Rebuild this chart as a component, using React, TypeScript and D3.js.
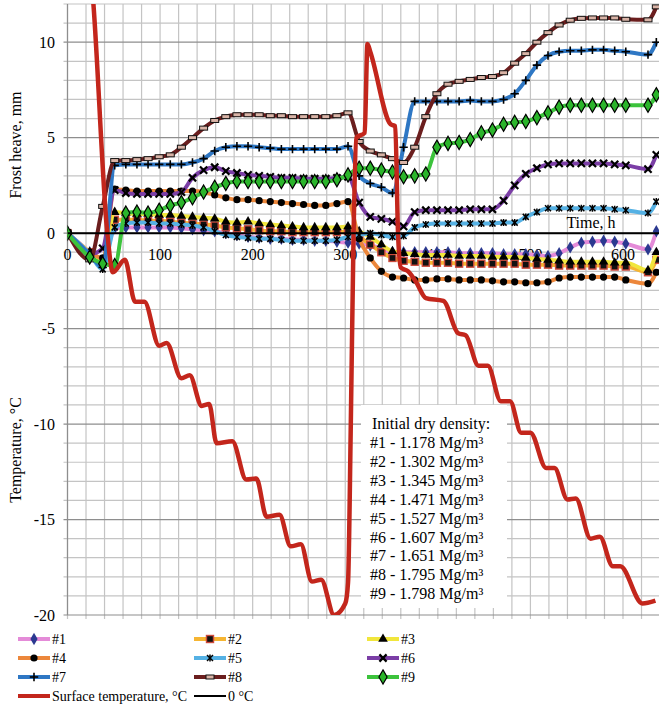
import React from 'react';
import * as d3 from 'd3';

// sampling times of the frost heave readings, h
const hours = [0, 24, 38, 51, 63, 75, 87, 99, 111, 123,
  135, 147, 159, 171, 183, 195, 207, 219, 231, 243,
  255, 267, 279, 291, 303, 315, 327, 339, 351, 363,
  375, 387, 399, 411, 423, 435, 447, 459, 471, 483,
  495, 507, 519, 531, 543, 555, 567, 579, 591, 603,
  627, 636];

// frost heave, mm
const heave1 = [0, -1.0, -1.6, 0.25, 0.3, 0.3, 0.3, 0.3, 0.3, 0.25,
  0.2, 0.15, 0.1, 0.0, -0.1, -0.2, -0.25, -0.3, -0.3, -0.35,
  -0.35, -0.4, -0.4, -0.45, -0.5, -0.55, -0.65, -0.8, -1.0, -1.0,
  -1.0, -1.0, -1.0, -1.0, -1.05, -1.05, -1.05, -1.05, -1.1, -1.1,
  -1.1, -1.15, -1.2, -1.05, -0.75, -0.5, -0.45, -0.4, -0.45, -0.55,
  -0.85, 0.1];
const heave2 = [0, -1.0, -1.5, 0.7, 0.7, 0.7, 0.65, 0.65, 0.6, 0.55,
  0.5, 0.45, 0.4, 0.3, 0.25, 0.2, 0.15, 0.1, 0.1, 0.05,
  0.05, 0.05, 0.05, 0.05, 0.1, -0.2, -0.6, -1.0, -1.3, -1.45,
  -1.5, -1.55, -1.55, -1.55, -1.6, -1.6, -1.6, -1.6, -1.6, -1.6,
  -1.65, -1.65, -1.65, -1.7, -1.7, -1.7, -1.7, -1.7, -1.75, -1.75,
  -2.05, -1.4];
const heave3 = [0, -1.0, -1.5, 1.1, 1.05, 1.0, 1.0, 0.95, 0.95, 0.9,
  0.85, 0.8, 0.75, 0.6, 0.55, 0.6, 0.5, 0.45, 0.4, 0.35,
  0.3, 0.3, 0.3, 0.3, 0.35, 0.1, -0.2, -0.6, -0.95, -1.05,
  -1.1, -1.15, -1.15, -1.15, -1.2, -1.2, -1.2, -1.25, -1.25, -1.25,
  -1.3, -1.35, -1.4, -1.45, -1.5, -1.5, -1.5, -1.5, -1.55, -1.55,
  -1.95, -1.0];
const heave4 = [0, -1.0, -1.3, 2.3, 2.25, 2.2, 2.2, 2.2, 2.2, 2.2,
  2.2, 2.15, 2.0, 1.85, 1.75, 1.75, 1.7, 1.65, 1.6, 1.55,
  1.5, 1.45, 1.45, 1.55, 1.65, -0.3, -1.3, -2.0, -2.3, -2.35,
  -2.45, -2.45, -2.4, -2.4, -2.45, -2.45, -2.45, -2.5, -2.55, -2.55,
  -2.6, -2.6, -2.55, -2.35, -2.3, -2.3, -2.3, -2.3, -2.3, -2.45,
  -2.65, -2.05];
const heave5 = [0, -1.1, -1.9, 0.3, 0.5, 0.55, 0.55, 0.5, 0.5, 0.45,
  0.4, 0.3, 0.1, -0.1, -0.2, -0.25, -0.3, -0.3, -0.35, -0.4,
  -0.4, -0.4, -0.4, -0.35, -0.2, -0.1, 0.0, -0.1, -0.2, -0.15,
  0.3, 0.45, 0.5, 0.5, 0.5, 0.5, 0.5, 0.5, 0.55, 0.55,
  0.85, 1.1, 1.3, 1.3, 1.3, 1.3, 1.3, 1.3, 1.25, 1.2,
  1.05, 1.65];
const heave6 = [0, -1.1, -0.8, 2.25, 2.1, 2.05, 2.05, 2.05, 2.05, 2.15,
  2.9, 3.3, 3.45, 3.25, 3.15, 3.05, 3.0, 2.95, 2.9, 2.9,
  2.85, 2.85, 2.85, 2.9, 2.95, 1.6, 0.85, 0.75, 0.6, 0.35,
  1.1, 1.2, 1.2, 1.2, 1.2, 1.25, 1.25, 1.25, 1.7, 2.5,
  3.1, 3.4, 3.6, 3.65, 3.65, 3.65, 3.65, 3.65, 3.6, 3.55,
  3.35, 4.1];
const heave7 = [0, -1.1, -1.8, 3.55, 3.6, 3.6, 3.6, 3.6, 3.6, 3.6,
  3.7, 3.9, 4.3, 4.5, 4.55, 4.55, 4.5, 4.45, 4.4, 4.4,
  4.4, 4.4, 4.4, 4.4, 4.55, 3.0, 2.6, 2.4, 2.1, 4.5,
  6.9, 6.9, 6.9, 6.9, 6.9, 6.95, 6.9, 6.9, 7.0, 7.3,
  8.0, 8.8, 9.3, 9.5, 9.55, 9.55, 9.6, 9.6, 9.55, 9.5,
  9.35, 10.0];
const heave8 = [0, -1.4, 1.4, 3.8, 3.8, 3.85, 3.9, 4.0, 4.1, 4.5,
  5.0, 5.5, 5.9, 6.1, 6.2, 6.2, 6.2, 6.15, 6.15, 6.1,
  6.1, 6.1, 6.1, 6.15, 6.3, 4.8, 4.3, 4.1, 3.9, 3.7,
  4.5, 6.1, 7.3, 7.8, 7.95, 8.05, 8.15, 8.2, 8.4, 8.9,
  9.4, 10.0, 10.5, 10.9, 11.15, 11.25, 11.27, 11.27, 11.27, 11.2,
  11.17, 11.85];
const heave9 = [0, -1.25, -1.6, -1.7, 1.05, 1.1, 1.05, 1.2, 1.45, 1.6,
  1.85, 2.15, 2.4, 2.6, 2.7, 2.7, 2.7, 2.7, 2.7, 2.7,
  2.7, 2.7, 2.7, 2.8, 3.05, 3.4, 3.4, 3.3, 3.2, 2.95,
  3.0, 3.1, 4.5, 4.7, 4.75, 4.9, 5.25, 5.4, 5.7, 5.8,
  5.85, 6.05, 6.3, 6.6, 6.7, 6.7, 6.7, 6.7, 6.7, 6.7,
  6.7, 7.25];

// surface temperature, °C
const tempHours = [20, 28, 43, 49, 62, 73, 83, 99, 107, 123,
  132, 145, 153, 161, 178, 193, 204, 215, 229, 241,
  252, 264, 274, 288, 300, 303, 306, 309, 312, 321,
  324, 327, 349, 354, 357, 360, 368, 377, 387, 406,
  422, 430, 444, 454, 468, 478, 490, 500, 517, 526,
  540, 549, 565, 575, 589, 597, 621, 635];
const tempValues = [16.5, 12, 0, -2.05, -1.4, -3.6, -3.6, -5.9, -5.75, -7.6,
  -7.45, -9.05, -8.95, -11.0, -10.9, -12.9, -12.85, -14.85, -14.75, -16.4,
  -16.3, -18.25, -18.15, -20.0, -19.4, -18.3, -10, 0, 5.0, 5.25,
  9.9, 9.5, 5.7, 5.6, 0, -1.8, -2.0, -2.6, -3.4, -3.55,
  -5.25, -5.35, -6.95, -6.95, -8.8, -8.8, -10.45, -10.45, -12.3, -12.3,
  -13.95, -13.9, -16.0, -15.9, -17.45, -17.45, -19.4, -19.25];

const xTicks = [0, 100, 200, 300, 400, 500, 600];
const yTicks = [-20, -15, -10, -5, 0, 5, 10];
const densityTitle = 'Initial dry density:';
const densityNotes = ['#1 - 1.178 Mg/m³', '#2 - 1.302 Mg/m³', '#3 - 1.345 Mg/m³',
  '#4 - 1.471 Mg/m³', '#5 - 1.527 Mg/m³', '#6 - 1.607 Mg/m³',
  '#7 - 1.651 Mg/m³', '#8 - 1.795 Mg/m³', '#9 - 1.798 Mg/m³'];

const FONT = '"Liberation Serif", "Times New Roman", serif';

const series = [
  { name: '#1', values: heave1, color: '#e48bd8', marker: 'diamond' },
  { name: '#2', values: heave2, color: '#f6b532', marker: 'square' },
  { name: '#3', values: heave3, color: '#f1e63c', marker: 'triangle' },
  { name: '#4', values: heave4, color: '#ec873b', marker: 'circle' },
  { name: '#5', values: heave5, color: '#55b1e4', marker: 'star' },
  { name: '#6', values: heave6, color: '#7b3ea6', marker: 'cross' },
  { name: '#7', values: heave7, color: '#2e77c4', marker: 'plus' },
  { name: '#8', values: heave8, color: '#6b1e1e', marker: 'dash' },
  { name: '#9', values: heave9, color: '#3cc33c', marker: 'greenDiamond' },
];

const x = d3.scaleLinear().domain([0, 600]).range([67.5, 623]);
const y = d3.scaleLinear().domain([-20, 12]).range([615, 4]);
const xEnd = x(640);

const Marker = ({ kind, cx, cy }: { kind: string; cx: number; cy: number }) => {
  const t = `translate(${cx},${cy})`;
  switch (kind) {
    case 'diamond':
      return <path transform={t} d={d3.symbol(d3.symbolDiamond, 44)()!} fill="#2b3990" />;
    case 'square':
      return <rect x={cx - 3.5} y={cy - 3.5} width={7} height={7} fill="#111" stroke="#cc4a3c" strokeWidth={1.4} />;
    case 'triangle':
      return <path transform={t} d={d3.symbol(d3.symbolTriangle, 40)()!} fill="#000" />;
    case 'circle':
      return <circle cx={cx} cy={cy} r={3.6} fill="#000" />;
    case 'star':
      return (
        <g transform={t} stroke="#000" strokeWidth={1.5}>
          <line x1={-3} y1={-3} x2={3} y2={3} />
          <line x1={-3} y1={3} x2={3} y2={-3} />
          <line x1={0} y1={-3.5} x2={0} y2={3.5} />
        </g>
      );
    case 'cross':
      return (
        <g transform={t} stroke="#000" strokeWidth={2.2}>
          <line x1={-3.6} y1={-3.6} x2={3.6} y2={3.6} />
          <line x1={-3.6} y1={3.6} x2={3.6} y2={-3.6} />
        </g>
      );
    case 'plus':
      return (
        <g transform={t} stroke="#000" strokeWidth={1.6}>
          <line x1={-4.2} y1={0} x2={4.2} y2={0} />
          <line x1={0} y1={-4.2} x2={0} y2={4.2} />
        </g>
      );
    case 'dash':
      return <rect x={cx - 4} y={cy - 2} width={8} height={4} fill="#d9b3a6" stroke="#111" strokeWidth={1} />;
    case 'greenDiamond':
      return <path transform={t} d={d3.symbol(d3.symbolDiamond, 58)()!} fill="#2bb52b" stroke="#000" strokeWidth={1.2} />;
    default:
      return null;
  }
};

const App = () => {
  const heaveLine = d3.line<number>()
    .x((_, i) => x(hours[i]))
    .y(d => y(d))
    .curve(d3.curveMonotoneX);

  const tempLine = d3.line<number>()
    .x((_, i) => x(tempHours[i]))
    .y(d => y(d))
    .curve(d3.curveMonotoneX);

  const hGrid = d3.range(-20, 13);
  const vGrid = d3.range(0, 641, 20);

  const legendRows = [
    [series[0], series[1], series[2]],
    [series[3], series[4], series[5]],
    [series[6], series[7], series[8]],
  ];
  const legendCols = [18, 194, 367];
  const legendY = [639, 658, 677, 696];

  return (
    <svg width={659} height={708} style={{ position: 'absolute', left: 0, top: 0, background: '#fff' }}
      fontFamily={FONT}>
      <defs>
        <clipPath id="plot">
          <rect x={x(0)} y={y(12)} width={xEnd - x(0)} height={y(-20) - y(12)} />
        </clipPath>
      </defs>

      {/* grid */}
      {vGrid.map(v => (
        <line key={'v' + v} x1={x(v)} x2={x(v)} y1={y(12)} y2={y(-20) + 4} stroke="#c4c4c4" strokeWidth={1.2} />
      ))}
      {hGrid.map(v => (
        <line key={'h' + v} x1={x(0) - 4} x2={xEnd} y1={y(v)} y2={y(v)}
          stroke={v % 5 === 0 ? '#8e8e8e' : '#c4c4c4'} strokeWidth={1.2} />
      ))}
      <line x1={x(0)} x2={x(0)} y1={y(12)} y2={y(-20)} stroke="#8e8e8e" strokeWidth={1.2} />

      {/* axis labels */}
      {yTicks.map(v => (
        <text key={'yt' + v} x={55} y={y(v)} dy="0.35em" textAnchor="end" fontSize={16}>{v}</text>
      ))}
      {xTicks.map(v => (
        <text key={'xt' + v} x={x(v)} y={260} textAnchor="middle" fontSize={16}>{v}</text>
      ))}
      <text transform={`translate(21,145) rotate(-90)`} textAnchor="middle" fontSize={16}>Frost heave, mm</text>
      <text transform={`translate(21,450) rotate(-90)`} textAnchor="middle" fontSize={16}>Temperature, °C</text>

      <g clipPath="url(#plot)">
        {series.map(s => (
          <g key={s.name}>
            <path d={heaveLine(s.values)!} fill="none" stroke={s.color} strokeWidth={4} strokeLinejoin="round" />
            {s.values.map((v, i) => (
              <Marker key={i} kind={s.marker} cx={x(hours[i])} cy={y(v)} />
            ))}
          </g>
        ))}
        <path d={tempLine(tempValues)!} fill="none" stroke="#c3261c" strokeWidth={4.5} strokeLinejoin="round" />
        <line x1={x(0)} x2={xEnd} y1={y(0)} y2={y(0)} stroke="#000" strokeWidth={2} />
      </g>

      <text x={591} y={228} textAnchor="middle" fontSize={16}>Time, h</text>

      {/* density note */}
      <rect x={361} y={405} width={146} height={203} fill="#fff" />
      <text x={372} y={429} fontSize={16}>{densityTitle}</text>
      {densityNotes.map((t, i) => (
        <text key={t} x={370} y={448 + i * 18.9} fontSize={16}>{t}</text>
      ))}

      {/* legend */}
      {legendRows.map((row, r) => row.map((s, c) => (
        <g key={s.name}>
          <line x1={legendCols[c]} x2={legendCols[c] + 32} y1={legendY[r]} y2={legendY[r]} stroke={s.color} strokeWidth={4} />
          <Marker kind={s.marker} cx={legendCols[c] + 16} cy={legendY[r]} />
          <text x={legendCols[c] + 34} y={legendY[r]} dy="0.35em" fontSize={14}>{s.name}</text>
        </g>
      )))}
      <line x1={legendCols[0]} x2={legendCols[0] + 32} y1={legendY[3]} y2={legendY[3]} stroke="#c3261c" strokeWidth={4} />
      <text x={legendCols[0] + 34} y={legendY[3]} dy="0.35em" fontSize={14}>Surface temperature, °C</text>
      <line x1={legendCols[1]} x2={legendCols[1] + 32} y1={legendY[3]} y2={legendY[3]} stroke="#000" strokeWidth={2} />
      <text x={legendCols[1] + 34} y={legendY[3]} dy="0.35em" fontSize={14}>0 °C</text>
    </svg>
  );
};

export default App;
